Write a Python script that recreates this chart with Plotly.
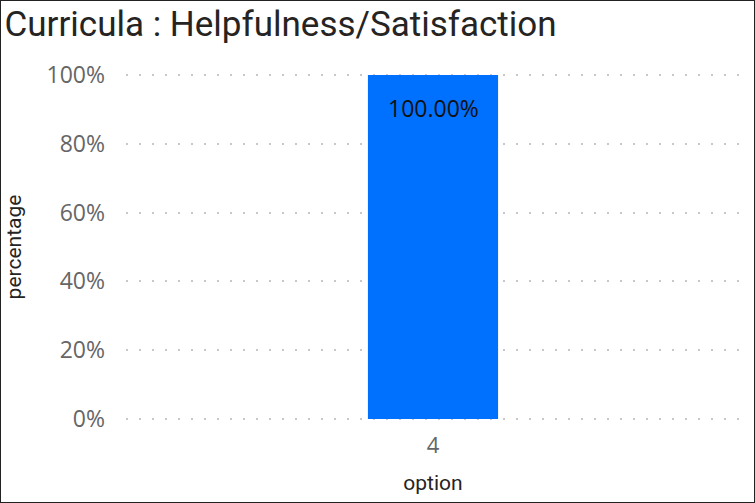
import plotly.graph_objects as go

options = ["4"]
percentage = [1.0]
labels = ["100.00%"]

W, H = 755, 503
L, R, T, B = 126, 15, 74, 83
pw, ph = W - L - R, H - T - B

fig = go.Figure()
fig.add_trace(go.Bar(x=options, y=percentage, width=0.212, marker_color="#0070FF",
                     marker_line_width=0, hoverinfo="skip"))

# category axis: annotation x given as category index
for i, (p, s) in enumerate(zip(percentage, labels)):
    fig.add_annotation(x=i, y=p, text=s, showarrow=False, yanchor="top", yshift=-15,
                       font=dict(family="Open Sans", size=23, color="#111111"))

fig.update_layout(
    width=W, height=H,
    margin=dict(l=L, r=R, t=T, b=B),
    paper_bgcolor="white", plot_bgcolor="white",
    showlegend=False,
    title=dict(text="Curricula : Helpfulness/Satisfaction", x=0.006, xanchor="left",
               y=0.978, yanchor="top",
               font=dict(family="Roboto", size=35, color="#252423")),
    xaxis=dict(type="category", range=[-0.5, 0.5], showgrid=False, zeroline=False,
               tickfont=dict(family="Open Sans", size=22, color="#666666"), ticks="",
               ticklabelstandoff=10,
               title=dict(text="option", standoff=17,
                          font=dict(family="Roboto", size=21, color="#252423"))),
    yaxis=dict(range=[-0.003, 1.003], tickvals=[0, 0.2, 0.4, 0.6, 0.8, 1.0],
               ticktext=["0%", "20%", "40%", "60%", "80%", "100%"],
               showgrid=True, gridcolor="#c8c8c8", gridwidth=2, griddash="2px,11px",
               zeroline=False, ticks="", ticklabelstandoff=20,
               tickfont=dict(family="Open Sans", size=23, color="#666666"),
               title=dict(text="percentage", standoff=19,
                          font=dict(family="Roboto", size=21, color="#252423"))),
    shapes=[dict(type="rect", xref="paper", yref="paper",
                 x0=-L / pw, x1=1 + R / pw, y0=-B / ph, y1=1 + T / ph,
                 line=dict(color="#222222", width=2), layer="above")],
)

fig.write_html("out.html", config={"displayModeBar": False},
               post_script="document.body.style.margin='0';")
